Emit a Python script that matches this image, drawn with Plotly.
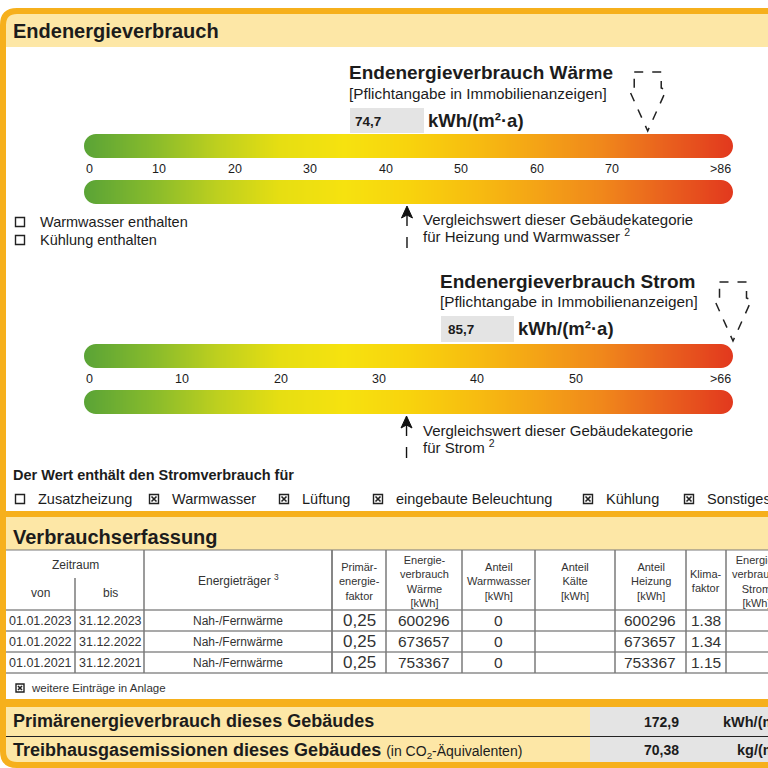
import numpy as np
import plotly.graph_objects as go

# ---------------- data ----------------
WAERME_VALUE = 74.7
WAERME_VERGLEICH = 42.8
WAERME_MAX = 86
WAERME_TICKS = [0, 10, 20, 30, 40, 50, 60, 70]

STROM_VALUE = 85.7
STROM_VERGLEICH = 32.8
STROM_MAX = 66
STROM_TICKS = [0, 10, 20, 30, 40, 50]

WAERME_ITEMS = ["Warmwasser enthalten", "Kühlung enthalten"]
WAERME_CHECKED = [False, False]
STROM_ITEMS = ["Zusatzheizung", "Warmwasser", "Lüftung", "eingebaute Beleuchtung", "Kühlung", "Sonstiges"]
STROM_CHECKED = [False, True, True, True, True, True]

ZEIT_VON = ["01.01.2023", "01.01.2022", "01.01.2021"]
ZEIT_BIS = ["31.12.2023", "31.12.2022", "31.12.2021"]
ENERGIETRAEGER = ["Nah-/Fernwärme", "Nah-/Fernwärme", "Nah-/Fernwärme"]
PRIMAERFAKTOR = [0.25, 0.25, 0.25]
VERBRAUCH_WAERME = [600296, 673657, 753367]
ANTEIL_WW = [0, 0, 0]
ANTEIL_KAELTE = [None, None, None]
ANTEIL_HEIZUNG = [600296, 673657, 753367]
KLIMAFAKTOR = [1.38, 1.34, 1.15]
WEITERE_EINTRAEGE = True

PRIMAERENERGIE = 172.9
THG_EMISSION = 70.38

# ---------------- style ----------------
FONT = "Liberation Sans, Arial, sans-serif"
TXT = "#1c1c1c"
ORANGE = "#F6B01C"
BAND = "#FDE7A6"
GREY = "#E4E4E4"
LINE = "#7a7a7a"
BAR_X0, BAR_X1 = 84, 733
GRAD = [[0.0, "#5ba436"], [0.1, "#86ba2c"], [0.2, "#bccf1f"], [0.3, "#e6de12"],
        [0.4, "#f6e20f"], [0.5, "#f8d30d"], [0.6, "#f7bd10"], [0.7, "#f4a316"],
        [0.8, "#f0871b"], [0.9, "#e9601e"], [1.0, "#e2391e"]]


def de(v, d):
    return f"{v:.{d}f}".replace(".", ",")


fig = go.Figure()
shapes = []
ann = []


def txt(x, y, s, size, anchor="left", color=TXT, xref="x", family=FONT):
    ann.append(dict(x=x, y=y, xref=xref, yref="y", text=s, showarrow=False,
                    xanchor=anchor, yanchor="middle",
                    font=dict(size=size, color=color, family=family)))


def rect(x0, y0, x1, y1, fill, line=None, lw=0, layer="below"):
    shapes.append(dict(type="rect", xref="x", yref="y", x0=x0, y0=y0, x1=x1, y1=y1,
                       fillcolor=fill, line=dict(color=line or fill, width=lw), layer=layer))


def hline(x0, x1, y, color=LINE, w=1):
    shapes.append(dict(type="line", xref="x", yref="y", x0=x0, x1=x1, y0=y, y1=y,
                       line=dict(color=color, width=w), layer="above"))


def vline(x, y0, y1, color=LINE, w=1):
    shapes.append(dict(type="line", xref="x", yref="y", x0=x, x1=x, y0=y0, y1=y1,
                       line=dict(color=color, width=w), layer="above"))


def checkbox(cx, cy, checked, s=9):
    h = s / 2
    shapes.append(dict(type="rect", xref="x", yref="y", x0=cx - h, x1=cx + h, y0=cy - h, y1=cy + h,
                       fillcolor="white", line=dict(color="#222", width=1.4), layer="above"))
    if checked:
        p = 2
        shapes.append(dict(type="path", xref="x", yref="y",
                           path=f"M {cx-h+p},{cy-h+p} L {cx+h-p},{cy+h-p} M {cx+h-p},{cy-h+p} L {cx-h+p},{cy+h-p}",
                           line=dict(color="#222", width=1.6), layer="above"))


def gradient_bar(axis, vmax, y0, y1):
    n = 200
    fig.add_trace(go.Heatmap(
        z=[np.linspace(0, 1, n)], x=np.linspace(0, vmax, n + 1), y=[y0, y1],
        xaxis=axis, yaxis="y", colorscale=GRAD, showscale=False, zsmooth="best",
        hoverinfo="skip", zmin=0, zmax=1))
    r = (y1 - y0) / 2
    k = 0.5523 * r
    L, R = BAR_X0, BAR_X1
    paths = [
        f"M {L-1},{y0-1} L {L+r},{y0-1} L {L+r},{y0} C {L+r-k},{y0} {L},{y0+r-k} {L},{y0+r} L {L-1},{y0+r} Z",
        f"M {L-1},{y1+1} L {L+r},{y1+1} L {L+r},{y1} C {L+r-k},{y1} {L},{y1-r+k} {L},{y1-r} L {L-1},{y1-r} Z",
        f"M {R+1},{y0-1} L {R-r},{y0-1} L {R-r},{y0} C {R-r+k},{y0} {R},{y0+r-k} {R},{y0+r} L {R+1},{y0+r} Z",
        f"M {R+1},{y1+1} L {R-r},{y1+1} L {R-r},{y1} C {R-r+k},{y1} {R},{y1-r+k} {R},{y1-r} L {R+1},{y1-r} Z",
    ]
    for p in paths:
        shapes.append(dict(type="path", xref="x", yref="y", path=p, fillcolor="white",
                           line=dict(width=0), layer="above"))


def value_pointer(axis, value, top, tip):
    s = top + 16
    path = (f"M -13.5,{top} L 13.5,{top} L 13.5,{s} L 18.5,{s+2} L 0,{tip} "
            f"L -18.5,{s+2} L -13.5,{s} Z")
    shapes.append(dict(type="path", xref=axis, yref="y", xsizemode="pixel", xanchor=value,
                       path=path, line=dict(color="#222", width=1.5, dash="dash"),
                       fillcolor="rgba(0,0,0,0)", layer="above"))


def compare_arrow(axis, value, tip):
    shapes.append(dict(type="path", xref=axis, yref="y", xsizemode="pixel", xanchor=value,
                       path=f"M 0,{tip} L 5.5,{tip+12} L 0,{tip+9} L -5.5,{tip+12} Z",
                       fillcolor="#111", line=dict(color="#111", width=1), layer="above"))
    shapes.append(dict(type="line", xref=axis, yref="y", x0=value, x1=value, y0=tip + 8, y1=tip + 20,
                       line=dict(color="#111", width=1.4), layer="above"))
    shapes.append(dict(type="line", xref=axis, yref="y", x0=value, x1=value, y0=tip + 31, y1=tip + 42,
                       line=dict(color="#111", width=1.4), layer="above"))


# ---------------- backgrounds / frame ----------------
rect(6, 14, 790, 47, BAND)
rect(0, 511, 790, 517, ORANGE)
rect(6, 517, 790, 550, BAND)
rect(0, 699, 790, 707, ORANGE)
rect(6, 707, 590, 763, BAND)
rect(590, 707, 790, 763, GREY)
hline(6, 790, 736.5, color="#222", w=1)

txt(11, 31, "<b>Endenergieverbrauch</b>", 20)
txt(11, 537, "<b>Verbrauchserfassung</b>", 20)

# ---------------- Wärme ----------------
txt(347, 72, "<b>Endenergieverbrauch Wärme</b>", 19)
txt(347, 93, "[Pflichtangabe in Immobilienanzeigen]", 15.3)
rect(350, 108, 424, 133, GREY)
txt(353, 121, f"<b>{de(WAERME_VALUE, 1)}</b>", 13.5)
txt(426, 120, "<b>kWh/(m²·a)</b>", 18.5)

gradient_bar("x2", WAERME_MAX, 134, 158)
gradient_bar("x2", WAERME_MAX, 180, 204)
for t in WAERME_TICKS:
    txt(t, 169, str(t), 12.5, anchor="left" if t == 0 else "center", xref="x2")
txt(WAERME_MAX, 169, f">{WAERME_MAX}", 12.5, anchor="right", xref="x2")
value_pointer("x2", min(WAERME_VALUE, WAERME_MAX), 72, 131)
compare_arrow("x2", WAERME_VERGLEICH, 206)
txt(421, 219, "Vergleichswert dieser Gebäudekategorie", 15)
txt(421, 235, "für Heizung und Warmwasser <sup>2</sup>", 15)

for i, (item, chk) in enumerate(zip(WAERME_ITEMS, WAERME_CHECKED)):
    cy = 222 + 18 * i
    checkbox(20, cy, chk)
    txt(38, cy, item, 14.5)

# ---------------- Strom ----------------
txt(438, 281, "<b>Endenergieverbrauch Strom</b>", 19)
txt(438, 301, "[Pflichtangabe in Immobilienanzeigen]", 15.3)
rect(441, 316, 514, 342, GREY)
txt(446, 329, f"<b>{de(STROM_VALUE, 1)}</b>", 13.5)
txt(516, 328, "<b>kWh/(m²·a)</b>", 18.5)

gradient_bar("x3", STROM_MAX, 344, 368)
gradient_bar("x3", STROM_MAX, 390, 414)
for t in STROM_TICKS:
    txt(t, 379, str(t), 12.5, anchor="left" if t == 0 else "center", xref="x3")
txt(STROM_MAX, 379, f">{STROM_MAX}", 12.5, anchor="right", xref="x3")
value_pointer("x3", min(STROM_VALUE, STROM_MAX), 282, 341)
compare_arrow("x3", STROM_VERGLEICH, 416)
txt(421, 430, "Vergleichswert dieser Gebäudekategorie", 15)
txt(421, 446, "für Strom <sup>2</sup>", 15)

txt(11, 475, "<b>Der Wert enthält den Stromverbrauch für</b>", 14.5)
BOX_X = [20, 154, 284, 378, 588, 689]
for bx, item, chk in zip(BOX_X, STROM_ITEMS, STROM_CHECKED):
    checkbox(bx, 499, chk)
    txt(bx + 16, 499, item, 14.5)

# ---------------- table ----------------
T_TOP, T_HEAD, T_BOT = 550, 610, 673
ROW_H = 21
COLS = [6, 75, 144, 332, 386, 462, 535, 615, 686, 726, 790]
hline(6, 790, T_TOP, w=1.2)
for k in range(4):
    hline(6, 790, T_HEAD + ROW_H * k, color="#555", w=1.2)
vline(75, 578, T_BOT, w=1.5)
for cx in COLS[2:-1]:
    vline(cx, T_TOP, T_BOT, w=1.8 if cx == 332 else 1.5)

HS = 11
HC = "#333"
txt(75, 565, "Zeitraum", 12, anchor="center", color=HC)
txt(40, 593, "von", 12, anchor="center", color=HC)
txt(110, 593, "bis", 12, anchor="center", color=HC)
txt(238, 580, "Energieträger <sup>3</sup>", 12, anchor="center", color=HC)
headers = ["Primär-<br>energie-<br>faktor", "Energie-<br>verbrauch<br>Wärme<br>[kWh]",
           "Anteil<br>Warmwasser<br>[kWh]", "Anteil<br>Kälte<br>[kWh]",
           "Anteil<br>Heizung<br>[kWh]", "Klima-<br>faktor",
           "Energie-<br>verbrauch<br>Strom<br>[kWh]"]
for i, h in enumerate(headers):
    c = (COLS[i + 3] + COLS[i + 4]) / 2 if i < 6 else 756
    txt(c, 581, h, HS, anchor="center", color=HC)

for r in range(3):
    y = T_HEAD + ROW_H * r + ROW_H / 2
    txt(40, y, ZEIT_VON[r], 12.5, anchor="center", color=HC)
    txt(110, y, ZEIT_BIS[r], 12.5, anchor="center", color=HC)
    txt(238, y, ENERGIETRAEGER[r], 12, anchor="center", color=HC)
    txt(359, y, de(PRIMAERFAKTOR[r], 2), 17, anchor="center", color=HC)
    txt(424, y, str(VERBRAUCH_WAERME[r]), 15.5, anchor="center", color=HC)
    txt(498, y, str(ANTEIL_WW[r]), 15.5, anchor="center", color=HC)
    if ANTEIL_KAELTE[r] is not None:
        txt(575, y, str(ANTEIL_KAELTE[r]), 15.5, anchor="center", color=HC)
    txt(650, y, str(ANTEIL_HEIZUNG[r]), 15.5, anchor="center", color=HC)
    txt(706, y, f"{KLIMAFAKTOR[r]:.2f}", 15.5, anchor="center", color=HC)

checkbox(20, 688, WEITERE_EINTRAEGE, s=8)
txt(29, 688, "weitere Einträge in Anlage", 11.5, color=HC)

# ---------------- bottom ----------------
txt(11, 721, "<b>Primärenergieverbrauch dieses Gebäudes</b>", 18)
txt(11, 750, "<b>Treibhausgasemissionen dieses Gebäudes</b> "
             "<span style='font-size:14px'>(in CO<sub>2</sub>-Äquivalenten)</span>", 18)
txt(661, 722, f"<b>{de(PRIMAERENERGIE, 1)}</b>", 14, anchor="center")
txt(721, 722, "<b>kWh/(m²·a)</b>", 14.5)
txt(661, 750, f"<b>{de(THG_EMISSION, 2)}</b>", 14, anchor="center")
txt(735, 750, "<b>kg/(m²·a)</b>", 14.5)

# outer orange frame with rounded corners
shapes.append(dict(type="path", xref="x", yref="y",
                   path="M 17,11 L 800,11 L 800,765 L 17,765 Q 3,765 3,751 L 3,25 Q 3,11 17,11 Z",
                   line=dict(color=ORANGE, width=6), fillcolor="rgba(0,0,0,0)", layer="above"))


def scale_range(vmax):
    ppu = (BAR_X1 - BAR_X0) / vmax
    return [-BAR_X0 / ppu, (768 - BAR_X0) / ppu]


fig.update_layout(
    width=768, height=768, margin=dict(l=0, r=0, t=0, b=0),
    paper_bgcolor="white", plot_bgcolor="white", showlegend=False,
    xaxis=dict(range=[0, 768], visible=False, fixedrange=True),
    yaxis=dict(range=[768, 0], visible=False, fixedrange=True),
    xaxis2=dict(range=scale_range(WAERME_MAX), visible=False, anchor="y", overlaying="x", fixedrange=True),
    xaxis3=dict(range=scale_range(STROM_MAX), visible=False, anchor="y", overlaying="x", fixedrange=True),
    shapes=shapes, annotations=ann,
)
fig.write_html("out.html", config={"displayModeBar": False},
               post_script="document.body.style.margin='0px';")
